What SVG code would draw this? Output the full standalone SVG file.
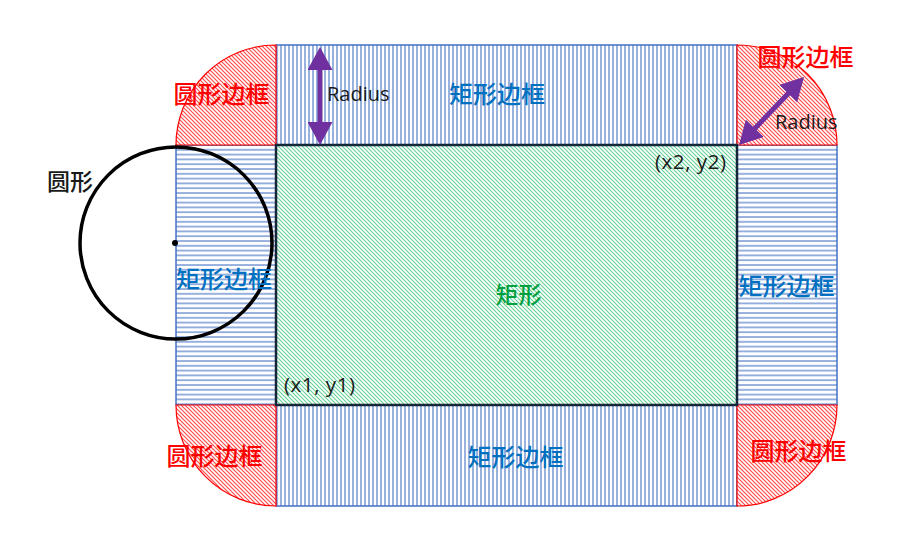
<svg xmlns="http://www.w3.org/2000/svg" width="923" height="560" viewBox="0 0 923 560">
<defs>
  <pattern id="pv" patternUnits="userSpaceOnUse" width="4" height="4">
    <rect width="4" height="4" fill="#ffffff"/>
    <line x1="1" y1="0" x2="1" y2="4" stroke="#4472c4" stroke-width="1.1"/>
  </pattern>
  <pattern id="ph" patternUnits="userSpaceOnUse" width="4.8" height="4.8">
    <rect width="4.8" height="4.8" fill="#ffffff"/>
    <line x1="0" y1="1" x2="4.8" y2="1" stroke="#4472c4" stroke-width="1.1"/>
  </pattern>
  <pattern id="pg" patternUnits="userSpaceOnUse" width="4" height="4">
    <rect width="4" height="4" fill="#ffffff"/>
    <path d="M-1,-1 L5,5 M3,-1 L5,1 M-1,3 L1,5" stroke="#00b050" stroke-width="1.1" stroke-opacity="0.6"/>
  </pattern>
  <pattern id="pr" patternUnits="userSpaceOnUse" width="4" height="4">
    <rect width="4" height="4" fill="#ffffff"/>
    <path d="M-1,-1 L5,5 M3,-1 L5,1 M-1,3 L1,5" stroke="#ff0000" stroke-width="1.2" stroke-opacity="0.7"/>
  </pattern>
  <marker id="ah" markerUnits="userSpaceOnUse" markerWidth="23" markerHeight="25" refX="13" refY="12.5" orient="auto-start-reverse">
    <path d="M0,0 L23,12.5 L0,25 z" fill="#7030a0"/>
  </marker>
  <style>
    .band-v { fill: url(#pv); stroke: #4472c4; stroke-width: 1.5; }
    .band-h { fill: url(#ph); stroke: #4472c4; stroke-width: 1.5; }
    .corner { fill: url(#pr); stroke: #ff0000; stroke-width: 1.2; }
    .cjk { font-family: "Noto Sans CJK SC", "Noto Sans", sans-serif; text-anchor: middle; font-weight: 500; }
    .lat { font-family: "Open Sans", "Liberation Sans", sans-serif; fill: #1a1a1a; }
    .blue { fill: #0070c0; font-size: 24px; }
    .red { fill: #ff0000; font-size: 24px; }
    .arrow { stroke: #7030a0; stroke-width: 5; fill: none; marker-start: url(#ah); marker-end: url(#ah); }
  </style>
</defs>
<rect width="923" height="560" fill="#ffffff"/>

<g id="band-top"><rect class="band-v" x="276" y="45" width="461" height="100"/></g>
<g id="band-bottom"><rect class="band-v" x="276" y="405" width="461" height="101"/></g>
<g id="band-left"><rect class="band-h" x="176" y="145" width="100" height="260"/></g>
<g id="band-right"><rect class="band-h" x="737" y="145" width="100" height="260"/></g>

<g id="corner-tl"><path class="corner" d="M276,145 L176,145 A100,100 0 0 1 276,45 Z"/></g>
<g id="corner-tr"><path class="corner" d="M737,145 L737,45 A100,100 0 0 1 837,145 Z"/></g>
<g id="corner-bl"><path class="corner" d="M276,405 L276,506 A100,101 0 0 1 176,405 Z"/></g>
<g id="corner-br"><path class="corner" d="M737,405 L837,405 A100,101 0 0 1 737,506 Z"/></g>

<g id="rect-main"><rect x="276" y="145" width="461" height="260" fill="url(#pg)" stroke="#14263a" stroke-width="2.5"/></g>

<g id="circle">
  <circle cx="176" cy="243" r="96" fill="none" stroke="#000000" stroke-width="3.5"/>
  <circle cx="175" cy="243" r="3" fill="#000000"/>
</g>

<g id="connectors">
  <line class="arrow" x1="320" y1="57" x2="320" y2="135"/>
  <line class="arrow" x1="745.9" y1="137.8" x2="797.1" y2="84.2"/>
</g>

<g id="labels">
  <text class="cjk red" x="221.5" y="103">圆形边框</text>
  <text class="cjk blue" x="497" y="103">矩形边框</text>
  <text class="cjk red" x="805.5" y="66">圆形边框</text>
  <text class="cjk blue" x="224" y="288">矩形边框</text>
  <text class="cjk blue" x="786.5" y="295">矩形边框</text>
  <text class="cjk red" x="214.5" y="465">圆形边框</text>
  <text class="cjk blue" x="515.5" y="466">矩形边框</text>
  <text class="cjk red" x="798.5" y="460">圆形边框</text>
  <text class="cjk" x="518.5" y="303" fill="#00a040" font-size="23">矩形</text>
  <text class="cjk" x="70" y="190" fill="#1a1a1a" font-size="23">圆形</text>
  <text class="lat" x="327" y="101" font-size="20">Radius</text>
  <text class="lat" x="775" y="129" font-size="20">Radius</text>
  <text class="lat" x="655" y="169" font-size="20.5" textLength="71" lengthAdjust="spacing">(x2, y2)</text>
  <text class="lat" x="284" y="392" font-size="20.5" textLength="71" lengthAdjust="spacing">(x1, y1)</text>
</g>
</svg>
